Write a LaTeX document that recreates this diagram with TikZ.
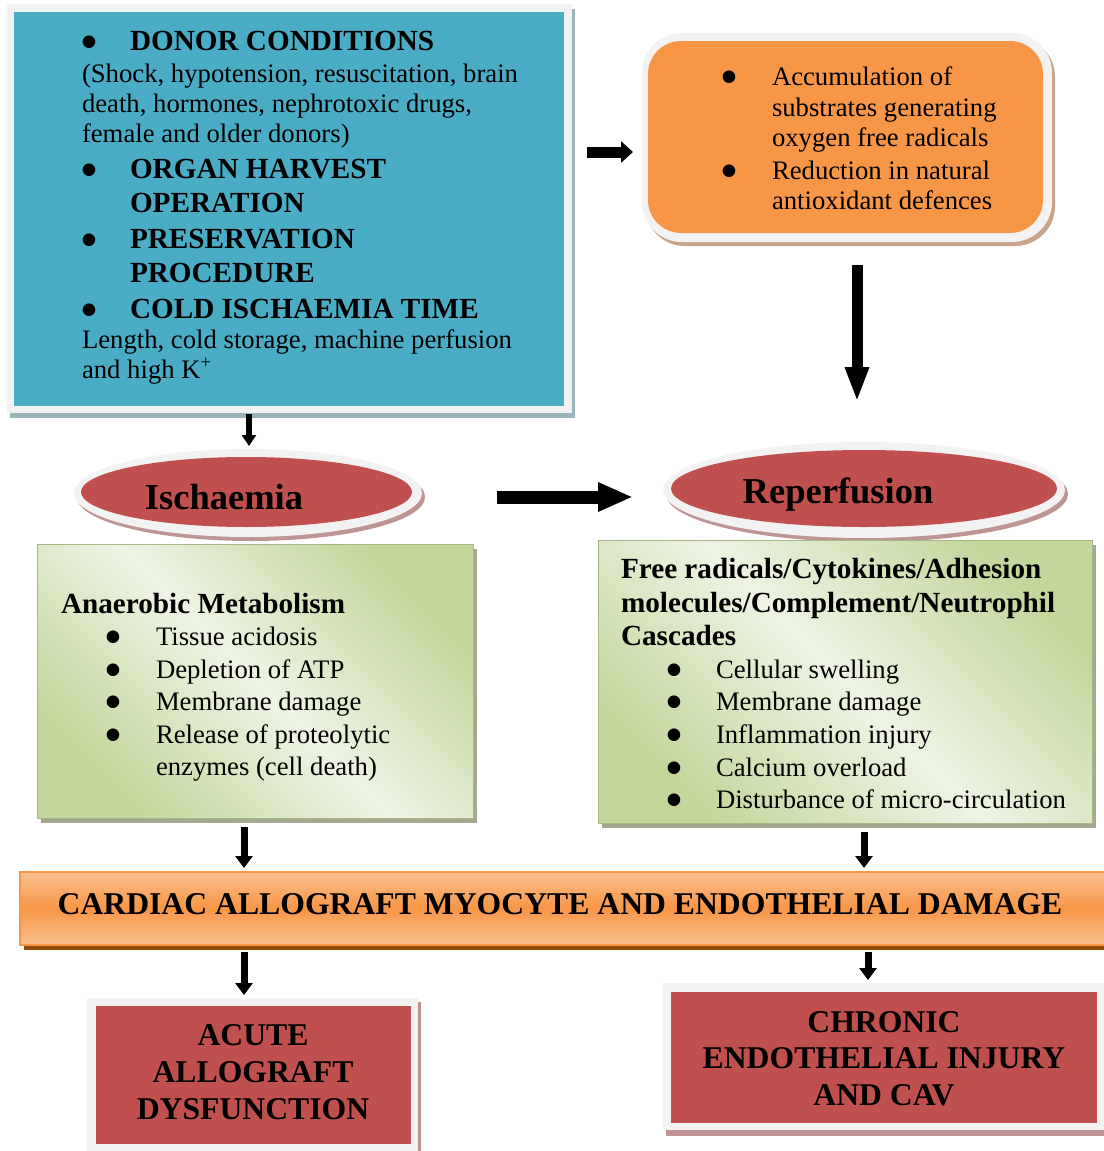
\documentclass[tikz,border=0pt]{standalone}
\usepackage{fontspec}
\setmainfont{Liberation Serif}
\newfontfamily\symfont{DejaVu Sans}
\usetikzlibrary{arrows.meta,shapes.geometric,calc}
\definecolor{frameg}{HTML}{F2F2F2}
\definecolor{blueF}{HTML}{4BACC6}
\definecolor{blueS}{HTML}{9AB4BA}
\definecolor{orangeF}{HTML}{F79646}
\definecolor{orangeS}{HTML}{C9A388}
\definecolor{orangeL}{HTML}{FAC090}
\definecolor{orangeD}{HTML}{984807}
\definecolor{redF}{HTML}{C0504D}
\definecolor{redS}{HTML}{BF9494}
\definecolor{greenD}{HTML}{C3D69B}
\definecolor{greenL}{HTML}{EEF3E4}
\definecolor{greenS}{HTML}{A3A88E}
\newcommand\LnA[2]{\baselineskip=#1pt\hbox{#2}}
\newcommand\LnC[3]{\baselineskip=#1pt\hbox to #2pt{\hss#3\hss}}
\newcommand\HdF{\fontsize{29.2}{33}\selectfont\bfseries}
\newcommand\BulA[1]{\hbox to #1pt{\hss\raise3.5pt\hbox{\symfont\fontsize{16.5}{18}\selectfont ●}\hss}}
\tikzset{
  txt/.style={inner sep=0pt, outer sep=0pt, font=\fontsize{26.7}{30.7}\selectfont},
  bigtxt/.style={inner sep=0pt, outer sep=0pt, font=\fontsize{31.7}{36.5}\selectfont\bfseries},
  elltxt/.style={inner sep=0pt, outer sep=0pt, font=\fontsize{36.5}{42}\selectfont\bfseries},
  framebox/.style={rectangle, fill=frameg, inner sep=0pt, outer sep=0pt},
  ellbox/.style={ellipse, inner sep=0pt, outer sep=0pt},
  greenbox/.style={rectangle, inner sep=0pt, outer sep=0pt, draw=greenD!85!black, line width=0.8pt,
     top color=greenD, bottom color=greenD, middle color=greenL, shading angle=-45},
  bannerbox/.style={rectangle, inner sep=0pt, outer sep=0pt, draw=orangeF, line width=1.5pt,
     top color=orangeL, bottom color=orangeL, middle color=orangeF},
  arrS/.style={line width=6pt, -{Triangle[length=11pt,width=14pt]}},
  arrG/.style={line width=7pt, -{Triangle[length=12pt,width=17pt]}},
  arrM/.style={line width=11pt, -{Triangle[length=12pt,width=21pt]}},
  arrL/.style={line width=11pt, -{Triangle[length=35pt,width=22pt]}},
  arrW/.style={line width=13pt, -{Triangle[length=35pt,width=27pt]}},
}
\begin{document}
\begin{tikzpicture}[x=1pt,y=-1pt]
\useasboundingbox (0,0) rectangle (1103,1151);
\fill[white] (0,0) rectangle (1103,1151);

% ---------- donor box (blue)
\fill[blueS] (10,9) rectangle (575,418);
\node[framebox, minimum width=565, minimum height=409] (donor) at (289.5,208.5) {};
\fill[blueF] (14,12) rectangle (564,406);
\node[txt, anchor=base west] (donortxt) at (82,50) {\vtop{%
\LnA{0}{\BulA{14}\hskip34pt\relax\HdF DONOR CONDITIONS}%
\LnA{32}{(Shock, hypotension, resuscitation, brain}%
\LnA{30}{death, hormones, nephrotoxic drugs,}%
\LnA{30}{female and older donors)}%
\LnA{36}{\BulA{14}\hskip34pt\relax\HdF ORGAN HARVEST}%
\LnA{34}{\hskip48pt\relax\HdF OPERATION}%
\LnA{36}{\BulA{14}\hskip34pt\relax\HdF PRESERVATION}%
\LnA{34}{\hskip48pt\relax\HdF PROCEDURE}%
\LnA{36}{\BulA{14}\hskip34pt\relax\HdF COLD ISCHAEMIA TIME}%
\LnA{30}{Length, cold storage, machine perfusion}%
\LnA{30}{and high K\textsuperscript{+}}}};

% ---------- oxygen radicals box (orange, rounded)
\fill[orangeS, rounded corners=40pt] (645,37) rectangle (1055,246);
\node[framebox, rounded corners=40pt, minimum width=410, minimum height=209] (ox) at (847,137.5) {};
\fill[orangeF, rounded corners=33pt] (648,41) rectangle (1043,233);
\node[txt, anchor=base west] (oxtxt) at (719,85) {\vtop{%
\LnA{0}{\BulA{20}\hskip33pt\relax Accumulation of}%
\LnA{31}{\hskip53pt\relax substrates generating}%
\LnA{30}{\hskip53pt\relax oxygen free radicals}%
\LnA{33}{\BulA{20}\hskip33pt\relax Reduction in natural}%
\LnA{30}{\hskip53pt\relax antioxidant defences}}};

% ---------- ellipses
\node[ellbox, fill=redS, minimum width=348, minimum height=88] (ischshadow) at (251,497) {};
\node[ellbox, fill=frameg, minimum width=348, minimum height=88] (ischring) at (248,493) {};
\node[ellbox, fill=redF, minimum width=331, minimum height=70] (isch) at (246.5,492) {};
\node[elltxt, anchor=base] (ischtxt) at (224,509) {Ischaemia};

\node[ellbox, fill=redS, minimum width=402, minimum height=96] (reperfshadow) at (867,494) {};
\node[ellbox, fill=frameg, minimum width=402, minimum height=96] (reperfring) at (864,490) {};
\node[ellbox, fill=redF, minimum width=386, minimum height=77] (reperf) at (864,488.5) {};
\node[elltxt, anchor=base] (reperftxt) at (838,503) {Reperfusion};

% ---------- green boxes
\fill[greenS] (41,549) rectangle (477,823);
\node[greenbox, minimum width=436, minimum height=274] (ana) at (255,681) {};
\node[txt, anchor=base west] (anatxt) at (61,613) {\vtop{%
\LnA{0}{\HdF Anaerobic Metabolism}%
\LnA{32}{\hskip42pt\relax\BulA{20}\hskip33pt\relax Tissue acidosis}%
\LnA{33}{\hskip42pt\relax\BulA{20}\hskip33pt\relax Depletion of ATP}%
\LnA{32}{\hskip42pt\relax\BulA{20}\hskip33pt\relax Membrane damage}%
\LnA{33}{\hskip42pt\relax\BulA{20}\hskip33pt\relax Release of proteolytic}%
\LnA{32}{\hskip95pt\relax enzymes (cell death)}}};

\fill[greenS] (602,545) rectangle (1096,828);
\node[greenbox, minimum width=494, minimum height=283] (casc) at (845,681.5) {};
\node[txt, anchor=base west] (casctxt) at (621,578) {\vtop{%
\LnA{0}{\HdF Free radicals/Cytokines/Adhesion}%
\LnA{34}{\HdF molecules/Complement/Neutrophil}%
\LnA{33}{\HdF Cascades}%
\LnA{33}{\hskip43pt\relax\BulA{20}\hskip32pt\relax Cellular swelling}%
\LnA{32}{\hskip43pt\relax\BulA{20}\hskip32pt\relax Membrane damage}%
\LnA{33}{\hskip43pt\relax\BulA{20}\hskip32pt\relax Inflammation injury}%
\LnA{33}{\hskip43pt\relax\BulA{20}\hskip32pt\relax Calcium overload}%
\LnA{32}{\hskip43pt\relax\BulA{20}\hskip32pt\relax Disturbance of micro-circulation}}};

% ---------- banner
\fill[orangeD] (24,877) rectangle (1114,950);
\node[bannerbox, minimum width=1090, minimum height=73] (banner) at (565,908.5) {};
\node[bigtxt, anchor=base] (bannertxt) at (560,914) {CARDIAC ALLOGRAFT MYOCYTE AND ENDOTHELIAL DAMAGE};

% ---------- outcome boxes
\fill[redS] (90,1002) rectangle (421,1162);
\node[framebox, minimum width=331, minimum height=160] (acute) at (252.5,1078) {};
\fill[redF] (96,1006) rectangle (411,1144);
\node[bigtxt, anchor=base] (acutetxt) at (253,1045) {\vtop{%
\LnC{0}{320}{ACUTE}%
\LnC{37}{320}{ALLOGRAFT}%
\LnC{37}{320}{DYSFUNCTION}}};

\fill[redS] (666,987) rectangle (1110,1136);
\node[framebox, minimum width=441, minimum height=147] (chronic) at (883.5,1056.5) {};
\fill[redF] (671,992) rectangle (1097,1123);
\node[bigtxt, anchor=base] (chronictxt) at (884,1032) {\vtop{%
\LnC{0}{420}{CHRONIC}%
\LnC{36}{420}{ENDOTHELIAL INJURY}%
\LnC{37}{420}{AND CAV}}};

% ---------- connectors
\draw[arrM] ($(donor.east)+(15,-56.5)$) -- ($(ox.west)+(-9,14.5)$);
\draw[arrL] ($(ox.south)+(10,23)$) -- ($(reperfring.north)+(-7,-40)$);
\draw[arrS] ($(donor.south)+(-40.5,1)$) -- ($(ischring.north)+(1,-3)$);
\draw[arrW] ($(ischring.east)+(75,4)$) -- ($(reperfring.west)+(-30,7)$);
\draw[arrG] ($(ana.south)+(-11,9)$) -- ($(banner.north)+(-321,-4)$);
\draw[arrG] ($(casc.south)+(19,9)$) -- ($(banner.north)+(299,-4)$);
\draw[arrG] ($(banner.south)+(-321,7)$) -- ($(acute.north)+(-8.5,-3)$);
\draw[arrG] ($(banner.south)+(303,7)$) -- ($(chronic.north)+(-15.5,-3)$);
\end{tikzpicture}
\end{document}
